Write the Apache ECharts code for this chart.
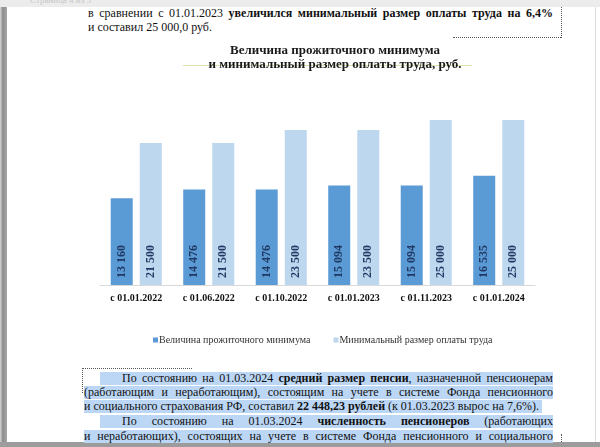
<!DOCTYPE html>
<html><head><meta charset="utf-8">
<script src="https://cdn.jsdelivr.net/npm/echarts@6/dist/echarts.min.js"></script>
<style>
html,body{margin:0;padding:0;width:600px;height:447px;overflow:hidden;background:#fff;font-family:"Liberation Serif","DejaVu Serif",serif;color:#111;}
.abs{position:absolute;}
.ln{position:absolute;font-size:12px;line-height:13px;height:13px;white-space:nowrap;box-sizing:border-box;}
.j{display:flex;justify-content:space-between;}
.hl{background:#bcd7f6;}
#chart{position:absolute;left:0;top:0;width:600px;height:447px;}
</style></head>
<body>
<div class="abs" style="left:0;top:0;width:600px;height:7px;background:#ececec;"></div>
<div class="abs" style="left:30px;top:-5px;font-size:9px;color:#c8c8c8;">Страница 4 из 5</div>
<div class="abs" style="left:0;top:7px;width:7px;height:440px;background:linear-gradient(90deg,#d8d8d8 0,#8c8c8c 40%,#a8a8a8 100%);"></div>
<div class="abs" style="left:595px;top:7px;width:1px;height:435px;background:#dedede;"></div>
<div class="abs" style="left:0;top:442px;width:600px;height:5px;background:#9c9c9c;"></div>

<div class="ln j" style="left:88px;top:7px;width:465px;">в сравнении с 01.01.2023 <b>увеличился минимальный размер оплаты труда на 6,4%</b></div>
<div class="ln" style="left:88px;top:21px;">и составил 25 000,0 руб.</div>
<div class="abs" style="left:453px;top:37px;width:108px;height:0;border-top:1px dotted #555;"></div>
<div class="abs" style="left:561px;top:7px;width:0;height:31px;border-left:1px dotted #555;"></div>

<div class="abs" style="left:83px;top:368px;width:109px;height:0;border-top:1px dotted #555;"></div>
<div class="abs" style="left:82px;top:368px;width:0;height:25px;border-left:1px dotted #555;"></div>
<div class="abs" style="left:561px;top:434px;width:0;height:8px;border-left:1px dotted #555;"></div>

<div class="ln hl j" style="left:100px;top:372px;width:453px;padding-left:22px;">По состоянию на 01.03.2024 <b>средний размер пенсии</b>, назначенной пенсионерам</div>
<div class="ln hl j" style="left:84px;top:386px;width:469px;">(работающим и неработающим), состоящим на учете в системе Фонда пенсионного</div>
<div class="ln hl" style="left:84px;top:400px;padding-right:3px;">и социального страхования РФ, составил <b>22 448,23 рублей</b> (к 01.03.2023 вырос на 7,6%).</div>
<div class="ln hl j" style="left:100px;top:415px;width:453px;padding-left:22px;">По состоянию на 01.03.2024 <b>численность пенсионеров</b> (работающих</div>
<div class="ln hl j" style="left:84px;top:430px;width:469px;">и неработающих), состоящих на учете в системе Фонда пенсионного и социального</div>

<div id="chart"></div>
<script>
// justify helper: split lines into word spans spread with flexbox
document.querySelectorAll('.j').forEach(function(el){
  var parts = [];
  el.childNodes.forEach(function(n){
    var bold = n.nodeType === 1 && n.tagName === 'B';
    var words = n.textContent.split(/\s+/).filter(function(w){return w.length;});
    var startsGlued = !/^\s/.test(n.textContent);
    words.forEach(function(w, i){
      if (i === 0 && startsGlued && parts.length && !/\s$/.test(parts[parts.length-1].raw)) {
        parts[parts.length-1].html += bold ? '<b>'+w+'</b>' : w;
      } else {
        parts.push({html: bold ? '<b>'+w+'</b>' : w, raw: ''});
      }
    });
    if (parts.length) parts[parts.length-1].raw = /\s$/.test(n.textContent) ? ' ' : '';
  });
  el.innerHTML = parts.map(function(p){return '<span>'+p.html+'</span>';}).join('');
});

var categories = ['с 01.01.2022','с 01.06.2022','с 01.10.2022','с 01.01.2023','с 01.11.2023','с 01.01.2024'];
var subsistenceMinimum = [13160, 14476, 14476, 15094, 15094, 16535];
var minimumWage = [21500, 21500, 23500, 23500, 25000, 25000];
var seriesNames = ['Величина прожиточного минимума', 'Минимальный размер оплаты труда'];
var chartTitle = 'Величина прожиточного минимума\nи минимальный размер оплаты труда, руб.';

var FONT = 'Liberation Serif';
function fmt(v){ return String(v).replace(/\B(?=(\d{3})+(?!\d))/g, ' '); }
var labelCfg = {
  show: true, position: 'insideBottom', rotate: 90, align: 'left', verticalAlign: 'middle',
  distance: 7, fontFamily: FONT, fontWeight: 'bold', fontSize: 12, color: '#1f3864',
  formatter: function(p){ return fmt(p.value); }
};
var chart = echarts.init(document.getElementById('chart'), null, {renderer:'canvas'});
chart.setOption({
  backgroundColor: 'transparent',
  animation: false,
  title: {
    text: chartTitle, left: 330, top: 39, textAlign: 'center',
    textStyle: {fontFamily: FONT, fontWeight: 'bold', fontSize: 13, lineHeight: 14, color: '#1a1a1a'}
  },
  graphic: [{type:'line', shape:{x1:183,y1:65.5,x2:472,y2:65.5}, style:{stroke:'#d9e4ad', lineWidth:1}}],
  legend: {
    data: seriesNames, left: 148, top: 330, icon: 'rect', itemWidth: 5, itemHeight: 5, itemGap: 23,
    textStyle: {fontFamily: FONT, fontSize: 10, color: '#333', padding:[0,0,0,-4]}
  },
  grid: {left: 100, right: 65, top: 87, bottom: 162},
  xAxis: {
    type: 'category', data: categories,
    axisLine: {lineStyle: {color: '#d9d9d9'}}, axisTick: {show: false},
    axisLabel: {fontFamily: FONT, fontWeight: 'bold', fontSize: 10, color: '#111', margin: 8}
  },
  yAxis: {type: 'value', min: 0, max: 30000, show: false, splitLine: {show: false}},
  series: [
    {name: seriesNames[0], type: 'bar', data: subsistenceMinimum, barWidth: 22, barGap: '32%',
     itemStyle: {color: '#5b9bd5'}, label: labelCfg},
    {name: seriesNames[1], type: 'bar', data: minimumWage, barWidth: 22,
     itemStyle: {color: '#bdd7ee'}, label: labelCfg}
  ]
});
</script>
</body></html>
